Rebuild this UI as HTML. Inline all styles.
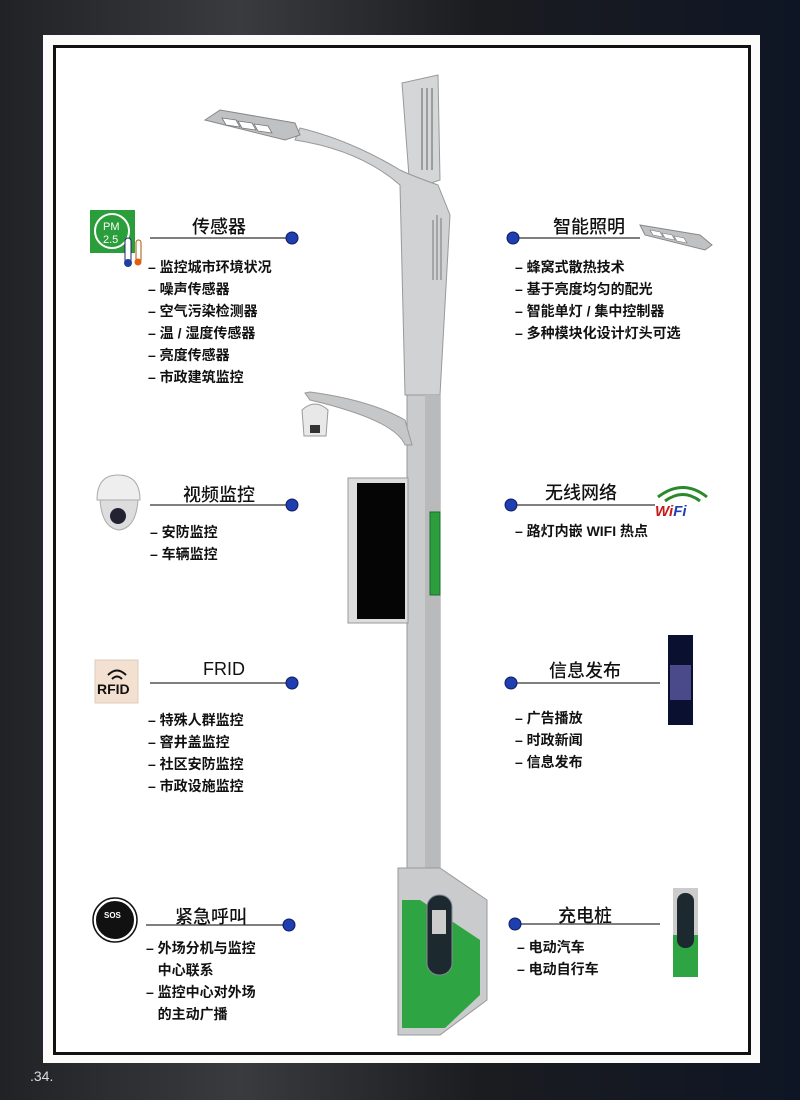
<!DOCTYPE html>
<html><head><meta charset="utf-8"><style>
body{margin:0;width:800px;height:1100px;background:#15171c;position:relative;overflow:hidden;font-family:"Liberation Sans","Noto Sans CJK SC",sans-serif}
.t{position:absolute;font-size:18px;color:#111;white-space:nowrap;font-weight:500}
.i{position:absolute;font-size:14px;font-weight:bold;color:#111;line-height:22px;white-space:nowrap}
</style></head><body>
<div style="position:absolute;left:0;top:0;width:800px;height:1100px;background:linear-gradient(90deg,#202226,#3a3b3e 30%,#1b1c20 60%,#0e1524)"></div>
<div style="position:absolute;left:43px;top:35px;width:717px;height:1028px;background:#fbfbfa"></div>
<div style="position:absolute;left:53px;top:45px;width:692px;height:1004px;border:3px solid #111;background:#fff"></div>
<div style="position:absolute;left:30px;top:1068px;color:#ddd;font-size:14px">.34.</div>
<svg style="position:absolute;left:0;top:0" width="800" height="1100">
<g stroke="#333" stroke-width="1.3">
<line x1="150" y1="238" x2="290" y2="238"/><line x1="513" y1="238" x2="640" y2="238"/>
<line x1="150" y1="505" x2="290" y2="505"/><line x1="511" y1="505" x2="655" y2="505"/>
<line x1="150" y1="683" x2="290" y2="683"/><line x1="511" y1="683" x2="660" y2="683"/>
<line x1="146" y1="925" x2="287" y2="925"/><line x1="515" y1="924" x2="660" y2="924"/>
</g>
<g fill="#1f3fb0" stroke="#0c1c60" stroke-width="1">
<circle cx="292" cy="238" r="6"/><circle cx="513" cy="238" r="6"/>
<circle cx="292" cy="505" r="6"/><circle cx="511" cy="505" r="6"/>
<circle cx="292" cy="683" r="6"/><circle cx="511" cy="683" r="6"/>
<circle cx="289" cy="925" r="6"/><circle cx="515" cy="924" r="6"/>
</g>
<!-- pole -->
<path d="M402 83 L438 75 L440 180 L410 190 Z" fill="#d4d6d8" stroke="#999"/>
<g stroke="#888" stroke-width="1.5"><line x1="422" y1="88" x2="422" y2="170"/><line x1="427" y1="88" x2="427" y2="170"/><line x1="432" y1="88" x2="432" y2="170"/></g>
<path d="M295 140 Q360 150 400 185 L405 395 L440 395 L450 215 L438 185 Q410 175 400 170 Q350 140 300 128 Z" fill="#d0d2d4" stroke="#999"/>
<g stroke="#888" stroke-width="1.2"><line x1="433" y1="220" x2="433" y2="280"/><line x1="437" y1="215" x2="437" y2="280"/><line x1="441" y1="218" x2="441" y2="280"/></g>
<rect x="407" y="395" width="33" height="475" fill="#c9cbcd" stroke="#999"/>
<rect x="425" y="395" width="15" height="475" fill="#b8babc"/>
<path d="M205 120 L220 110 L295 123 L300 135 L285 140 Z" fill="#bfc1c3" stroke="#888"/>
<g fill="#fff" stroke="#777" stroke-width="0.8"><path d="M222 118 L236 120 L240 127 L226 125 Z"/><path d="M238 121 L252 123 L256 130 L242 128 Z"/><path d="M254 124 L268 126 L272 133 L258 131 Z"/></g>
<path d="M305 393 L310 392 Q370 400 405 420 L412 445 L405 445 Q395 420 310 400 Z" fill="#c5c7c9" stroke="#999"/>
<path d="M302 410 Q315 398 328 410 L326 436 L304 436 Z" fill="#e8e8e8" stroke="#999"/>
<rect x="310" y="425" width="10" height="8" fill="#333"/>
<rect x="348" y="478" width="60" height="145" fill="#ddd" stroke="#999"/>
<rect x="357" y="483" width="48" height="136" fill="#050505"/>
<rect x="430" y="512" width="10" height="83" fill="#2c9e3e" stroke="#1c6d2a"/>
<path d="M398 868 L440 868 L487 900 L487 1000 L440 1035 L398 1035 Z" fill="#c9cbcd" stroke="#999"/>
<path d="M402 900 L420 900 L480 940 L480 995 L445 1028 L402 1028 Z" fill="#2ea443"/>
<rect x="427" y="895" width="25" height="80" rx="12" fill="#1c2a30" stroke="#889"/>
<rect x="432" y="910" width="14" height="24" fill="#ccc"/>
<!-- icons -->
<rect x="90" y="210" width="45" height="43" fill="#2a9e3a"/>
<circle cx="112" cy="231" r="17" fill="none" stroke="#fff" stroke-width="2"/>
<text x="103" y="230" font-size="11" fill="#fff">PM</text><text x="103" y="243" font-size="11" fill="#fff">2.5</text>
<rect x="125" y="238" width="6" height="25" rx="3" fill="#fff" stroke="#226"/><circle cx="128" cy="263" r="4" fill="#2040a0"/>
<rect x="136" y="240" width="5" height="22" rx="2.5" fill="#fff" stroke="#a50"/><circle cx="138" cy="262" r="3.5" fill="#e06010"/>
<path d="M97 500 Q97 475 118 475 Q140 475 140 500 Z" fill="#eee" stroke="#aaa"/>
<path d="M100 500 L138 500 Q136 528 119 530 Q102 528 100 500 Z" fill="#ddd" stroke="#aaa"/>
<circle cx="118" cy="516" r="8" fill="#223"/>
<rect x="95" y="660" width="43" height="43" fill="#f3e0d0" stroke="#dcb"/>
<text x="97" y="694" font-size="14" font-weight="bold" fill="#111">RFID</text>
<path d="M108 675 Q117 666 126 675 M112 679 Q117 674 122 679" stroke="#111" stroke-width="2" fill="none"/>
<circle cx="115" cy="920" r="20" fill="#111" stroke="#fff" stroke-width="2"/><circle cx="115" cy="920" r="22" fill="none" stroke="#111" stroke-width="1.5"/>
<text x="104" y="918" font-size="8" fill="#fff" font-weight="bold">SOS</text>
<path d="M658 497 Q683 478 707 497 M665 501 Q683 488 700 501" stroke="#2a8a2a" stroke-width="3" fill="none"/>
<text x="655" y="516" font-size="15" font-weight="bold" font-style="italic" fill="#c81818">Wi<tspan fill="#2040b0">Fi</tspan></text>
<path d="M640 225 L700 235 L712 245 L705 250 L645 235 Z" fill="#bfc1c3" stroke="#888"/>
<g fill="#fff" stroke="#777" stroke-width="0.6"><path d="M650 230 L660 232 L663 237 L653 235 Z"/><path d="M662 233 L672 235 L675 240 L665 238 Z"/><path d="M674 236 L684 238 L687 243 L677 241 Z"/></g>
<rect x="668" y="635" width="25" height="90" fill="#0a1030"/><rect x="670" y="665" width="21" height="35" fill="#4a4a8a"/>
<rect x="673" y="888" width="25" height="89" fill="#ccc"/><rect x="673" y="935" width="25" height="42" fill="#2ea443"/>
<rect x="677" y="893" width="17" height="55" rx="8" fill="#1c2a30"/>
</svg>
<div class="t" style="left:192px;top:213px">传感器</div>
<div class="t" style="left:553px;top:213px">智能照明</div>
<div class="t" style="left:183px;top:481px">视频监控</div>
<div class="t" style="left:545px;top:479px">无线网络</div>
<div class="t" style="left:203px;top:659px">FRID</div>
<div class="t" style="left:549px;top:657px">信息发布</div>
<div class="t" style="left:175px;top:903px">紧急呼叫</div>
<div class="t" style="left:558px;top:902px">充电桩</div>
<div class="i" style="left:148px;top:256px">– 监控城市环境状况<br>– 噪声传感器<br>– 空气污染检测器<br>– 温 / 湿度传感器<br>– 亮度传感器<br>– 市政建筑监控</div>
<div class="i" style="left:515px;top:256px">– 蜂窝式散热技术<br>– 基于亮度均匀的配光<br>– 智能单灯 / 集中控制器<br>– 多种模块化设计灯头可选</div>
<div class="i" style="left:150px;top:521px">– 安防监控<br>– 车辆监控</div>
<div class="i" style="left:515px;top:520px">– 路灯内嵌 WIFI 热点</div>
<div class="i" style="left:148px;top:709px">– 特殊人群监控<br>– 窨井盖监控<br>– 社区安防监控<br>– 市政设施监控</div>
<div class="i" style="left:515px;top:707px">– 广告播放<br>– 时政新闻<br>– 信息发布</div>
<div class="i" style="left:146px;top:937px">– 外场分机与监控<br>&nbsp;&nbsp;&nbsp;中心联系<br>– 监控中心对外场<br>&nbsp;&nbsp;&nbsp;的主动广播</div>
<div class="i" style="left:517px;top:936px">– 电动汽车<br>– 电动自行车</div>
</body></html>
